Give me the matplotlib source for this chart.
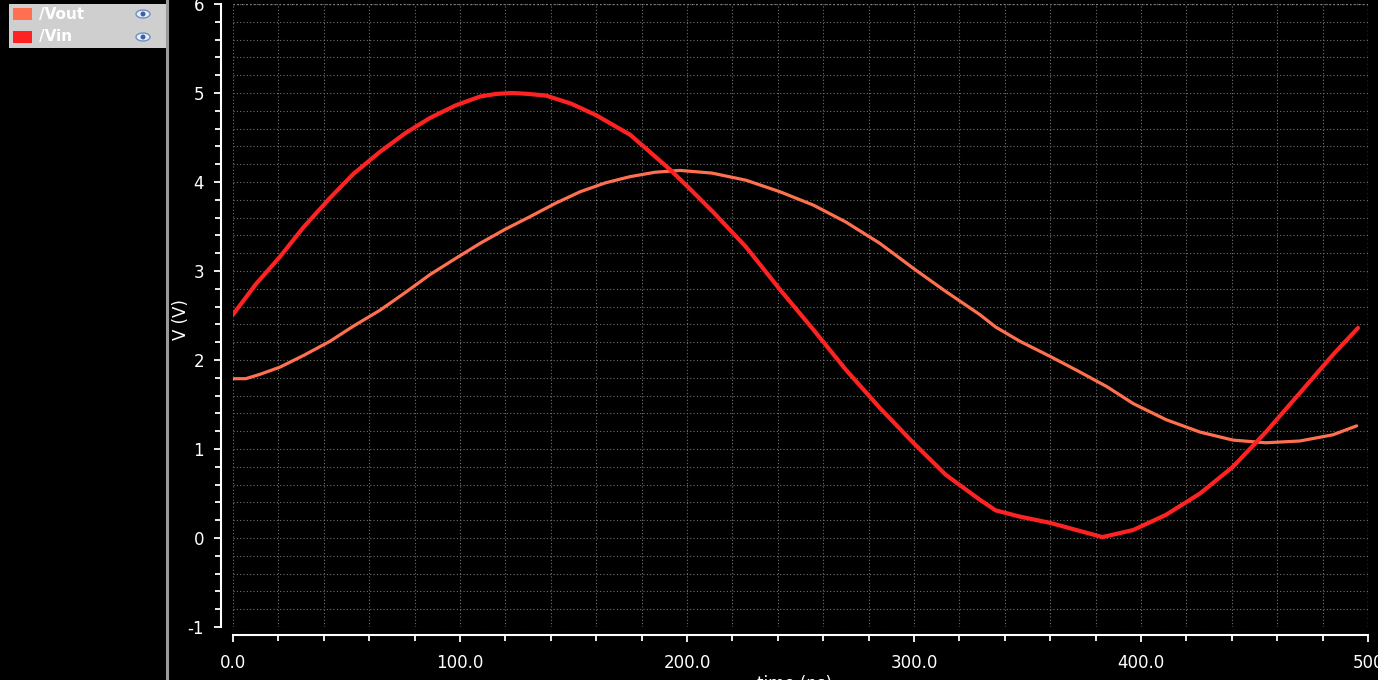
import matplotlib
matplotlib.use("Agg")
import matplotlib.pyplot as plt
from matplotlib.patches import Rectangle, Ellipse
from matplotlib.ticker import MultipleLocator, FixedLocator

plt.rcParams["axes.unicode_minus"] = False

# ---- data ----
vin_t = [0, 10, 20.7, 31, 42.7, 53, 64.8, 76, 86.8, 98, 108.8, 116, 123, 130, 138,
         149, 160, 175, 192.5, 201,
         211.6, 226, 241, 255.7, 270, 285, 299.7, 314, 329, 336, 346.7,
         360, 383, 396.6, 411, 426, 440.5, 455, 470, 484.6, 495.6]
vin_v = [2.51, 2.85, 3.16, 3.49, 3.82, 4.09, 4.34, 4.55, 4.72, 4.86, 4.96, 4.99, 5.00, 4.99, 4.97,
         4.88, 4.75, 4.53, 4.14, 3.93,
         3.66, 3.27, 2.79, 2.34, 1.89, 1.46, 1.07, 0.71, 0.43, 0.31, 0.24,
         0.17, 0.01, 0.09, 0.26, 0.50, 0.80, 1.19, 1.63, 2.06, 2.36]
vout_t = [0, 5.6, 12, 20.7, 31, 42.7, 53, 64.8, 76, 86.8, 98, 108.8, 120, 130.8,
          142, 152.9, 164, 174.9, 186, 197,
          211, 226, 241, 255.7, 270, 285, 299.7, 314, 329, 336, 346.7,
          360, 372, 385, 396.6, 411, 426, 440.5, 455, 470, 484.6, 495]
vout_v = [1.79, 1.79, 1.84, 1.92, 2.05, 2.21, 2.38, 2.56, 2.76, 2.96, 3.14, 3.31, 3.47, 3.61,
          3.76, 3.89, 3.99, 4.06, 4.11, 4.13,
          4.10, 4.02, 3.89, 3.74, 3.55, 3.31, 3.03, 2.77, 2.51, 2.37, 2.21,
          2.04, 1.88, 1.70, 1.51, 1.33, 1.19, 1.10, 1.07, 1.09, 1.16, 1.26]
series_names = ["/Vout", "/Vin"]
series_colors = ["#ff7050", "#ff2222"]
x_major = [0, 100, 200, 300, 400, 500]
x_labels = ["0.0", "100.0", "200.0", "300.0", "400.0", "500"]
y_major = [-1, 0, 1, 2, 3, 4, 5, 6]

W, H = 1378, 680
PT = 72 / 100  # points per pixel
fig = plt.figure(figsize=(W / 100, H / 100), dpi=100, facecolor="black")

def fx(px):
    return px / W

def fy(py):
    return 1 - py / H

ax = fig.add_axes([fx(233), fy(627), fx(1368) - fx(233), fy(4) - fy(627)])
ax.set_facecolor("black")
ax.set_xlim(0, 500)
ax.set_ylim(-1, 6)

# grid
ax.xaxis.set_major_locator(FixedLocator(x_major))
ax.xaxis.set_minor_locator(MultipleLocator(20))
ax.yaxis.set_major_locator(FixedLocator(y_major))
ax.yaxis.set_minor_locator(MultipleLocator(0.2))
ax.grid(which="both", color="#707070", linestyle=(0, (1, 2)), linewidth=0.8)
ax.set_axisbelow(True)

ax.plot(vout_t, vout_v, color=series_colors[0], lw=2.3, solid_capstyle="round",
        solid_joinstyle="round", zorder=3)
ax.plot(vin_t, vin_v, color=series_colors[1], lw=3.0, solid_capstyle="round",
        solid_joinstyle="round", zorder=4)

for s in ["top", "right"]:
    ax.spines[s].set_visible(False)
ax.spines["left"].set_position(("outward", 12 * PT))
ax.spines["bottom"].set_position(("outward", 8 * PT))
for s in ["left", "bottom"]:
    ax.spines[s].set_color("white")
    ax.spines[s].set_linewidth(1.5)

ax.set_xticklabels(x_labels)
ax.tick_params(which="both", colors="white", direction="out", width=1.3, labelsize=12)
ax.tick_params(which="major", length=7 * PT)
ax.tick_params(which="minor", length=6 * PT)
ax.tick_params(axis="x", pad=12 * PT)
ax.tick_params(axis="y", pad=10 * PT)

# right and top dotted borders
ax.axvline(500, color="#8a8a8a", linestyle=(0, (1, 2)), lw=1.0, zorder=2)
ax.axhline(6, color="#8a8a8a", linestyle=(0, (1, 2)), lw=1.0, zorder=2)

fig.text(fx(181), fy(320), "V (V)", color="white", fontsize=12, rotation=90,
         ha="center", va="center")
fig.text(fx(795), fy(684), "time (ns)", color="white", fontsize=12,
         ha="center", va="center")

# left panel separator
fig.add_artist(plt.Line2D([fx(167), fx(167)], [0, 1], color="#9a9a9a", lw=2.2))

# legend panel
fig.add_artist(Rectangle((fx(9), fy(48)), fx(158), fy(4) - fy(48),
                         facecolor="#cfcfcf", edgecolor="none"))
legend_rows = [14, 37]
for name, col, yy in zip(series_names, series_colors, legend_rows):
    fig.add_artist(Rectangle((fx(13), fy(yy + 6)), fx(19), fy(yy - 6) - fy(yy + 6),
                             facecolor=col, edgecolor="none"))
    fig.text(fx(39), fy(yy), name, color="white", fontsize=11, fontweight="bold",
             ha="left", va="center")
    fig.add_artist(Ellipse((fx(143), fy(yy)), fx(14), fy(0) - fy(8),
                           facecolor="#e8f0ff", edgecolor="#7090c0", lw=1.0))
    fig.add_artist(Ellipse((fx(143), fy(yy)), fx(5), fy(0) - fy(5),
                           facecolor="#4060a0", edgecolor="none"))

fig.savefig("out.png", dpi=100, facecolor="black")
